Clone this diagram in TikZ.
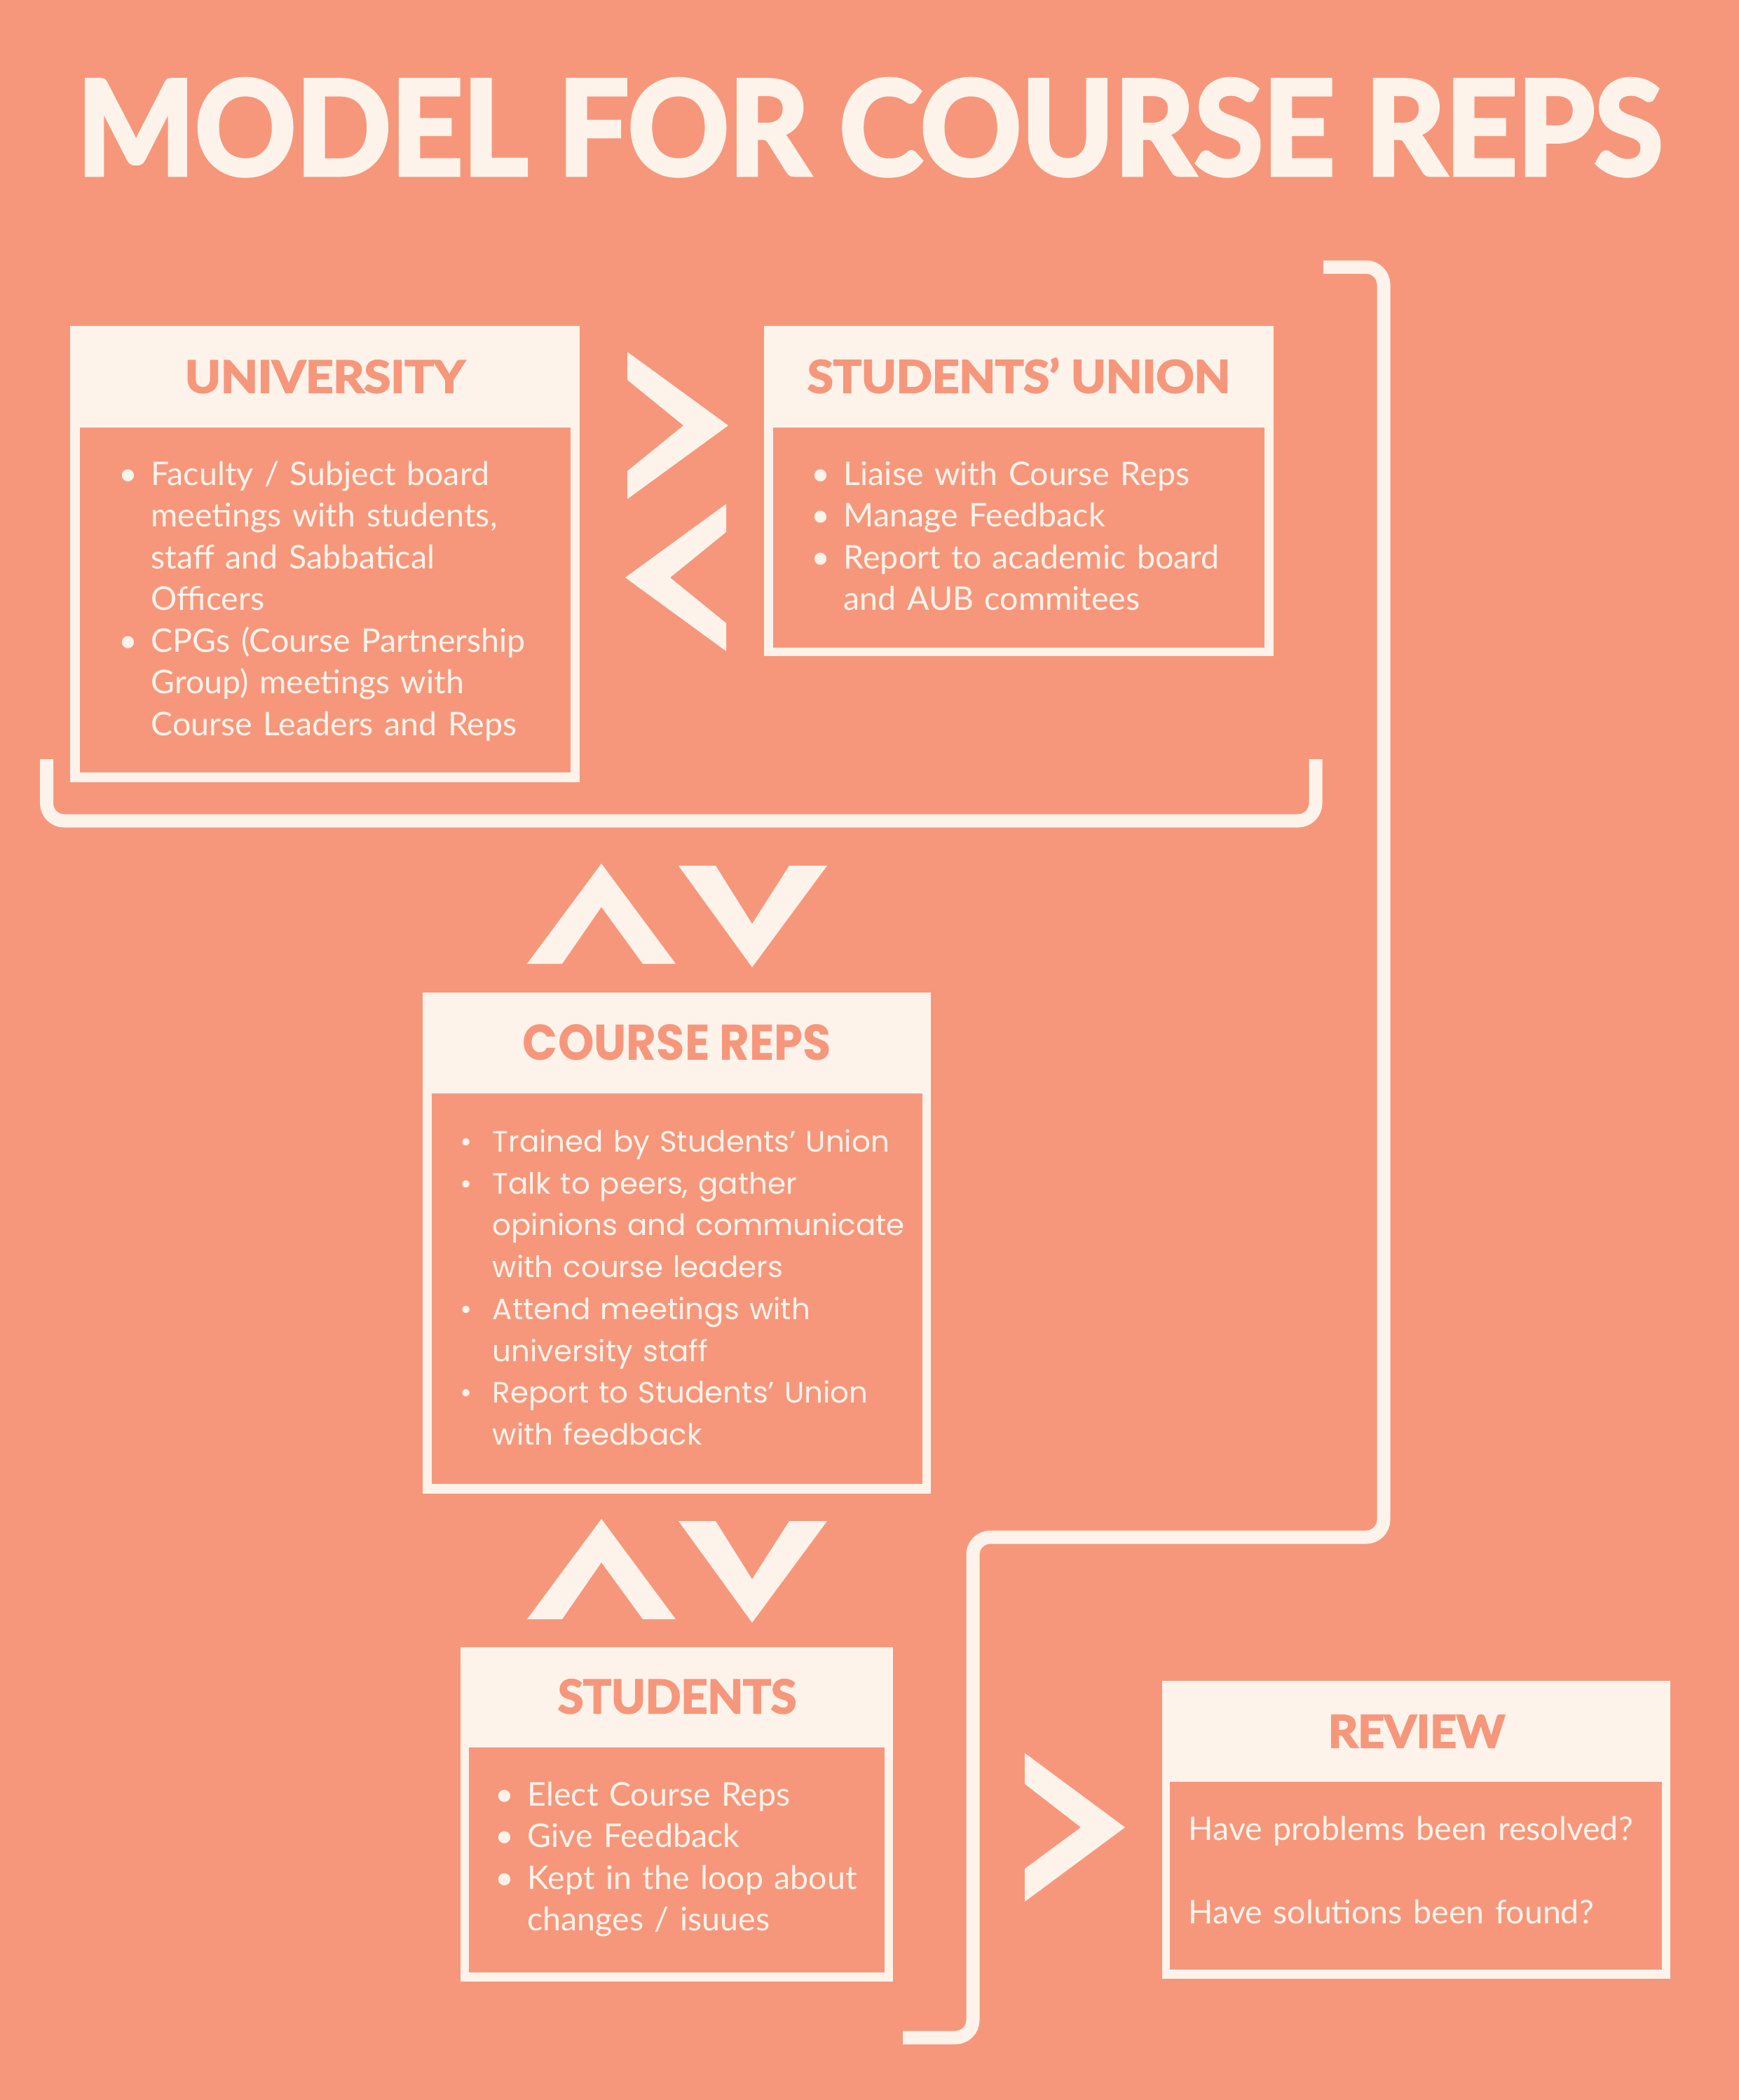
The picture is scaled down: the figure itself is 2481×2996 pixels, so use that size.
\documentclass[tikz,border=0pt]{standalone}
\usepackage{fontspec}
\usepackage{graphicx}
\setmainfont{Lato}
\newfontfamily\wideface{Poppins}
\newfontfamily\heavyface{Lato}[FakeBold=3.5]

\definecolor{salmon}{RGB}{246,151,123}
\definecolor{cream}{RGB}{253,243,235}

\newlength\px
\setlength\px{0.1mm}
\newcommand\bul{\makebox[46\px][l]{\textbullet}}
\newcommand\ind{\hspace*{46\px}}
\newcommand\headtext[3]{\resizebox{#1\px}{#2\px}{\heavyface\bfseries #3}}
\newcommand\bodyfont{\fontsize{4.65mm}{5.95mm}\selectfont}
\newcommand\widefont{\wideface\fontsize{4.2mm}{5.97mm}\selectfont}

\begin{document}
\begin{tikzpicture}[x=0.1mm, y=-0.1mm,
  frame/.style={fill=cream},
  panel/.style={fill=salmon},
  chevron/.style={fill=cream},
  route/.style={draw=cream, line width=1.9mm, rounded corners=2.5mm},
  head/.style={inner sep=0pt, anchor=base, text=salmon},
  body/.style={inner sep=0pt, anchor=north west, text=cream, align=left, text width=#1}]

% background and title
\fill[salmon] (0,0) rectangle (2481,2996);
\useasboundingbox (0,0) rectangle (2481,2996);
\node[inner sep=0pt, anchor=base, text=cream] (title) at (1241,249)
  {\headtext{2262}{136}{MODEL FOR COURSE REPS}};

% university
\fill[frame] (100,465) rectangle (827,1116);
\fill[panel] (114,610) rectangle (814,1102);
\node[head] (uniHead) at (463.5,560) {\headtext{399}{46}{UNIVERSITY}};
\node[body=640\px, font=\bodyfont] (uniBody) at (169,650)
  {\strut\bul Faculty / Subject board\\
   \ind meetings with students,\\
   \ind staff and Sabbatical\\
   \ind Officers\\
   \bul CPGs (Course Partnership\\
   \ind Group) meetings with\\
   \ind Course Leaders and Reps};

% students' union
\fill[frame] (1090,465) rectangle (1817,936);
\fill[panel] (1103,610) rectangle (1804,924);
\node[head] (suHead) at (1453.5,560) {\headtext{603}{49}{STUDENTS’ UNION}};
\node[body=640\px, font=\bodyfont] (suBody) at (1157,650)
  {\strut\bul Liaise with Course Reps\\
   \bul Manage Feedback\\
   \bul Report to academic board\\
   \ind and AUB commitees};

% arrows between university and union
\fill[chevron] (895,502) -- (1039,607) -- (895,712) -- (895,672) -- (975,607) -- (895,542) -- cycle;
\fill[chevron] (1036,719) -- (892,824) -- (1036,929) -- (1036,889) -- (956,824) -- (1036,759) -- cycle;

% up and down arrows
\foreach \dy in {0,935} {
  \fill[chevron] (752,1375+\dy) -- (858,1232+\dy) -- (964,1375+\dy) -- (917,1375+\dy)
    -- (858,1294+\dy) -- (802,1375+\dy) -- cycle;
  \fill[chevron] (968,1235+\dy) -- (1073,1380+\dy) -- (1180,1235+\dy) -- (1126,1235+\dy)
    -- (1073,1318+\dy) -- (1021,1235+\dy) -- cycle;
}

% course reps
\fill[frame] (603,1416) rectangle (1328,2131);
\fill[panel] (616,1560) rectangle (1316,2117);
\node[head] (repHead) at (966,1512) {\resizebox{440\px}{51\px}{\wideface\bfseries COURSE REPS}};
\node[body=660\px, font=\widefont] (repBody) at (656,1601)
  {\strut\bul Trained by Students’ Union\\
   \bul Talk to peers, gather\\
   \ind opinions and communicate\\
   \ind with course leaders\\
   \bul Attend meetings with\\
   \ind university staff\\
   \bul Report to Students’ Union\\
   \ind with feedback};

% students
\fill[frame] (657,2350) rectangle (1274,2827);
\fill[panel] (669,2493) rectangle (1262,2814);
\node[head] (stuHead) at (966,2444) {\headtext{340}{48}{STUDENTS}};
\node[body=560\px, font=\bodyfont] (stuBody) at (706,2534)
  {\strut\bul Elect Course Reps\\
   \bul Give Feedback\\
   \bul Kept in the loop about\\
   \ind changes / isuues};

% review
\fill[chevron] (1462,2501) -- (1605,2607) -- (1462,2713) -- (1462,2666) -- (1542,2607) -- (1462,2545) -- cycle;
\fill[frame] (1658,2398) rectangle (2383,2823);
\fill[panel] (1669,2542) rectangle (2371,2810);
\node[head] (revHead) at (2021,2493) {\headtext{252}{46}{REVIEW}};
\node[body=700\px, font=\bodyfont] (revBody) at (1695,2583)
  {\strut Have problems been resolved?\\[5.95mm]
   Have solutions been found?};

% brackets
\coordinate (loopTop) at (1888,381);
\coordinate (loopEnd) at (1288,2907);
\draw[route] (loopTop) -- (1974,381) -- (1974,2193) -- (1388,2193) -- (1388,2907) -- (loopEnd);
\coordinate (braceL) at (66.5,1083);
\coordinate (braceR) at (1877,1083);
\draw[route] (braceL) -- (66.5,1171) -- (1877,1171) -- (braceR);

\end{tikzpicture}
\end{document}
